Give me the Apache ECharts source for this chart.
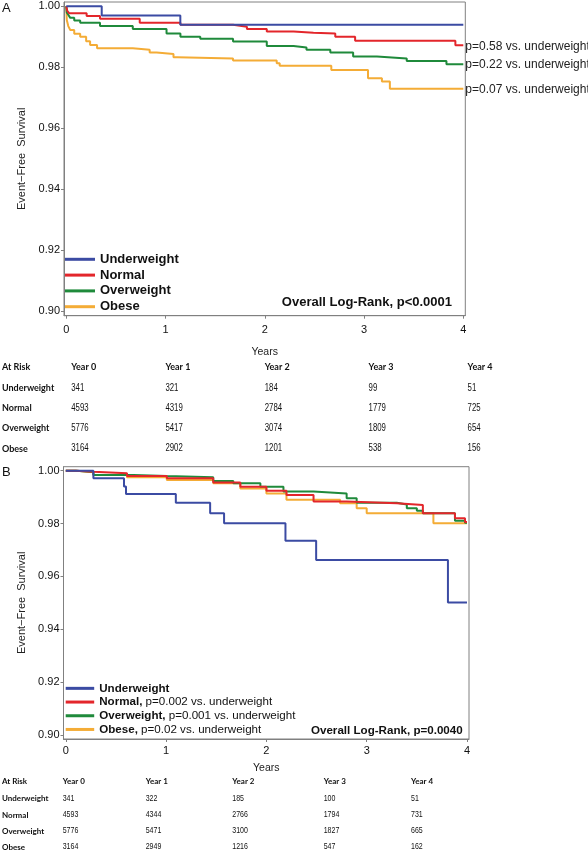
<!DOCTYPE html>
<html><head><meta charset="utf-8">
<script src="https://cdn.jsdelivr.net/npm/echarts@6/dist/echarts.min.js"></script>
<style>html,body{margin:0;padding:0;background:#fff}#c{width:588px;height:852px}</style>
</head><body><div id="c"></div>
<script>
// ---------- data ----------
const groups = ['Underweight', 'Normal', 'Overweight', 'Obese'];
const colors = ['#3b4ba3', '#e3262b', '#1f8a3b', '#f4ac36'];
const yTicks = [0.90, 0.92, 0.94, 0.96, 0.98, 1.00];
const xTicks = [0, 1, 2, 3, 4];
const yearHeaders = ['Year 0', 'Year 1', 'Year 2', 'Year 3', 'Year 4'];

// Panel A : Kaplan-Meier (time in years, event-free survival)
const aUnderT = [0, 0.357, 1.149, 4.0];
const aUnderS = [1.0, 0.9970, 0.9939, 0.9939];
const aNormT = [0, 0.01, 0.03, 0.205, 0.34, 0.74, 1.15, 1.68, 1.82, 2.02, 2.29, 2.49, 2.71, 2.91, 3.92, 4.0];
const aNormS = [1.0, 0.9985, 0.9977, 0.9968, 0.9959, 0.9946, 0.9939, 0.9933, 0.9925, 0.9917, 0.9913, 0.9911, 0.9900, 0.9887, 0.9872, 0.9872];
const aOverT = [0, 0.005, 0.02, 0.04, 0.08, 0.14, 0.34, 0.67, 1.01, 1.15, 1.35, 1.68, 2.02, 2.29, 2.42, 2.66, 2.89, 3.13, 3.43, 3.83, 4.0];
const aOverS = [1.0, 0.9980, 0.9972, 0.9962, 0.9953, 0.9946, 0.9935, 0.9925, 0.9911, 0.9900, 0.9893, 0.9884, 0.9870, 0.9865, 0.9857, 0.9848, 0.9835, 0.9829, 0.9820, 0.9810, 0.9810];
const aObT = [0, 0.005, 0.02, 0.04, 0.08, 0.14, 0.2, 0.24, 0.31, 0.67, 0.84, 0.91, 1.08, 1.12, 1.68, 2.12, 2.15, 2.67, 3.04, 3.18, 3.26, 4.0];
const aObS = [1.0, 0.9955, 0.9935, 0.9922, 0.9910, 0.9900, 0.9885, 0.9873, 0.9862, 0.9857, 0.9848, 0.9843, 0.9833, 0.9829, 0.9822, 0.9813, 0.9805, 0.9791, 0.9764, 0.9753, 0.9729, 0.9729];
const aPvals = ['', 'p=0.58 vs. underweight', 'p=0.22 vs. underweight', 'p=0.07 vs. underweight'];
const aLogRank = 'Overall Log-Rank, p<0.0001';

// Panel B
const bUnderT = [0, 0.275, 0.58, 0.60, 1.097, 1.439, 1.578, 2.19, 2.496, 3.81, 4.0];
const bUnderS = [1.0, 0.9971, 0.9940, 0.9912, 0.9879, 0.9839, 0.9801, 0.9735, 0.9662, 0.9501, 0.9501];
const bNormT = [0, 0.1, 0.275, 0.61, 1.007, 1.47, 1.74, 2.0, 2.2, 2.47, 2.80, 3.30, 3.56, 3.88, 3.98, 4.0];
const bNormS = [1.0, 0.9996, 0.9990, 0.9980, 0.9971, 0.9955, 0.9939, 0.9924, 0.9908, 0.9883, 0.9877, 0.9870, 0.9839, 0.9820, 0.9806, 0.9806];
const bOverT = [0, 0.1, 0.275, 0.674, 1.007, 1.47, 1.67, 1.94, 2.17, 2.47, 2.80, 2.90, 3.30, 3.40, 3.50, 3.56, 3.88, 3.98, 4.0];
const bOverS = [1.0, 0.9995, 0.9984, 0.9980, 0.9975, 0.9961, 0.9952, 0.9939, 0.9921, 0.9914, 0.9896, 0.9879, 0.9872, 0.9858, 0.9848, 0.9839, 0.9811, 0.9803, 0.9803];
const bObT = [0, 0.1, 0.275, 0.61, 1.007, 1.47, 1.74, 2.0, 2.2, 2.735, 2.90, 3.0, 3.665, 4.0];
const bObS = [1.0, 0.9995, 0.9984, 0.9975, 0.9965, 0.9952, 0.9933, 0.9914, 0.9890, 0.9877, 0.9858, 0.9839, 0.9801, 0.9801];
const bPvals = ['', 'p=0.002 vs. underweight', 'p=0.001 vs. underweight', 'p=0.02 vs. underweight'];
const bLogRank = 'Overall Log-Rank, p=0.0040';

// Numbers at risk
const aRiskUnder = [341, 321, 184, 99, 51];
const aRiskNorm = [4593, 4319, 2784, 1779, 725];
const aRiskOver = [5776, 5417, 3074, 1809, 654];
const aRiskOb = [3164, 2902, 1201, 538, 156];
const bRiskUnder = [341, 322, 185, 100, 51];
const bRiskNorm = [4593, 4344, 2766, 1794, 731];
const bRiskOver = [5776, 5471, 3100, 1827, 665];
const bRiskOb = [3164, 2949, 1216, 547, 162];

// ---------- build ----------
const zip = (t, s) => t.map((v, i) => [v, s[i]]);
const aT = [aUnderT, aNormT, aOverT, aObT], aS = [aUnderS, aNormS, aOverS, aObS];
const bT = [bUnderT, bNormT, bOverT, bObT], bS = [bUnderS, bNormS, bOverS, bObS];
const aRisk = [aRiskUnder, aRiskNorm, aRiskOver, aRiskOb];
const bRisk = [bRiskUnder, bRiskNorm, bRiskOver, bRiskOb];

const FONT = "'Liberation Sans', Arial, sans-serif";
const TBOLD = "Lato, 'Open Sans', sans-serif";
const axisGrey = '#808080';

function xAxis(gi, labelMargin, nameGap) {
  return {
    type: 'value', gridIndex: gi, min: -0.023, max: 4.02,
    name: 'Years', nameLocation: 'middle', nameGap: nameGap,
    nameTextStyle: { fontFamily: FONT, fontSize: 10.5, color: '#222' },
    axisLine: { show: true, onZero: false, lineStyle: { color: axisGrey, width: 1 } },
    axisTick: { show: true, length: 3, customValues: xTicks, lineStyle: { color: axisGrey } },
    axisLabel: { customValues: xTicks, margin: labelMargin, fontFamily: FONT, fontSize: 11, color: '#111', formatter: v => String(v) },
    splitLine: { show: false }
  };
}
function yAxis(gi, min, max) {
  return {
    type: 'value', gridIndex: gi, min: min, max: max,
    name: 'Event\u2212Free  Survival', nameLocation: 'middle', nameGap: 36,
    nameTextStyle: { fontFamily: FONT, fontSize: 11, color: '#222' },
    axisLine: { show: true, onZero: false, lineStyle: { color: axisGrey, width: 1 } },
    axisTick: { show: true, length: 3, customValues: yTicks, lineStyle: { color: axisGrey } },
    axisLabel: { customValues: yTicks, margin: 4, fontFamily: FONT, fontSize: 11, color: '#111', formatter: v => v.toFixed(2) },
    splitLine: { show: false }
  };
}

const series = [];
groups.forEach((g, i) => {
  series.push({
    name: g, type: 'line', step: 'end', xAxisIndex: 0, yAxisIndex: 0,
    data: zip(aT[i], aS[i]), symbol: 'none', clip: true,
    lineStyle: { color: colors[i], width: 2 }, itemStyle: { color: colors[i] },
    endLabel: { show: aPvals[i] !== '', formatter: aPvals[i], distance: 2, offset: [0, 1], fontFamily: FONT, fontSize: 12, color: '#222' },
    z: 10 - i
  });
});
groups.forEach((g, i) => {
  series.push({
    name: g, type: 'line', step: 'end', xAxisIndex: 1, yAxisIndex: 1,
    data: zip(bT[i], bS[i]), symbol: 'none', clip: true,
    lineStyle: { color: colors[i], width: 2 }, itemStyle: { color: colors[i] },
    z: i === 0 ? 12 : 10 - i
  });
});

// text graphics
const graphics = [];
function txt(x, y, text, size, family, weight, align, sx) {
  graphics.push({ type: 'text', x: x, y: y, scaleX: sx || 1, silent: true,
    style: { text: text, fontSize: size, fontFamily: family, fontWeight: weight || 'normal', fill: '#111',
             align: align || 'left', verticalAlign: 'middle' } });
}
txt(2, 8, 'A', 13, FONT);
txt(2, 472, 'B', 13, FONT);
txt(452, 302.7, aLogRank, 13, FONT, 'bold', 'right');
txt(462.7, 730.7, bLogRank, 11.6, FONT, 'bold', 'right');

function table(rowsY, colsX, risk, hdrSize, numSize) {
  txt(2, rowsY[0], 'At Risk', hdrSize, TBOLD, 'bold');
  yearHeaders.forEach((h, j) => txt(colsX[j], rowsY[0], h, hdrSize, TBOLD, 'bold'));
  groups.forEach((g, i) => {
    txt(2, rowsY[i + 1], g, hdrSize, TBOLD, 'bold');
    risk[i].forEach((v, j) => txt(colsX[j], rowsY[i + 1], String(v), numSize, FONT, 'normal', 'left', 0.78));
  });
}
table([367, 388, 408.2, 428.1, 448.7], [71.2, 165.4, 264.7, 368.6, 467.6], aRisk, 9, 10);
table([781.7, 798.7, 815, 831, 847], [62.7, 145.7, 232.3, 323.7, 411], bRisk, 8, 9);

const chart = echarts.init(document.getElementById('c'), null, { renderer: 'canvas' });
chart.setOption({
  animation: false,
  backgroundColor: '#fff',
  grid: [
    { left: 64, top: 2, width: 401.3, height: 313.7, show: true, borderColor: axisGrey, borderWidth: 1, backgroundColor: 'transparent' },
    { left: 63.5, top: 466.7, width: 405.5, height: 272.3, show: true, borderColor: axisGrey, borderWidth: 1, backgroundColor: 'transparent' }
  ],
  xAxis: [xAxis(0, 9, 31), xAxis(1, 6, 24)],
  yAxis: [yAxis(0, 0.89846, 1.0014), yAxis(1, 0.8985, 1.0015)],
  legend: [
    { data: groups, orient: 'vertical', left: 65, top: 251.4, padding: 0, itemGap: 0,
      icon: 'rect', itemWidth: 30, itemHeight: 3, selectedMode: false,
      textStyle: { fontFamily: FONT, fontSize: 13, fontWeight: 'bold', color: '#111', lineHeight: 15.8 } },
    { data: groups, orient: 'vertical', left: 65.7, top: 681.5, padding: 0, itemGap: 0,
      icon: 'rect', itemWidth: 28.5, itemHeight: 3, selectedMode: false,
      formatter: name => {
        const i = groups.indexOf(name);
        return bPvals[i] ? '{b|' + name + ',} ' + bPvals[i] : '{b|' + name + '}';
      },
      textStyle: { fontFamily: FONT, fontSize: 11.6, color: '#111', lineHeight: 13.7,
        rich: { b: { fontFamily: FONT, fontSize: 11.6, fontWeight: 'bold', color: '#111', lineHeight: 13.7 } } } }
  ],
  graphic: graphics,
  series: series
});
</script></body></html>
